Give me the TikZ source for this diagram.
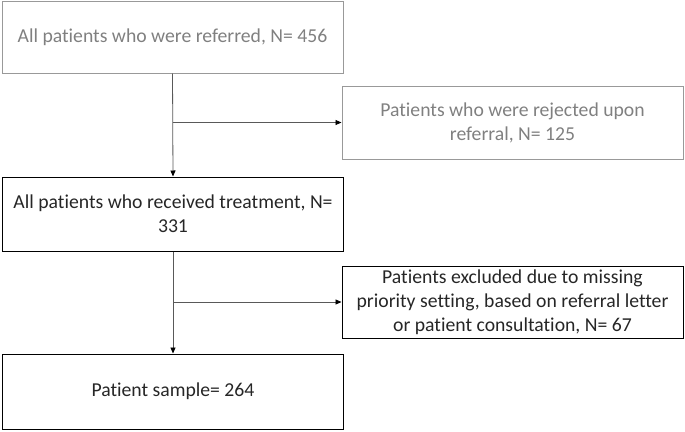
\documentclass[tikz,border=0pt]{standalone}
\usepackage{fontspec}
\setmainfont[Ligatures=NoCommon]{Carlito}
\usetikzlibrary{arrows.meta}
\begin{document}
\begin{tikzpicture}[x=1pt,y=-1pt,
  box/.style={draw=black,line width=1pt,minimum width=341pt,align=center,inner sep=0pt,font=\fontsize{19.7}{24}\selectfont,text=black!85},
  graybox/.style={box,draw=black!40,text=black!50},
  arr/.style={-{Triangle[length=6pt,width=5pt,color=black]},line width=0.8pt,draw=black!65}]
\useasboundingbox (0,0) rectangle (685,431);
\node[graybox,minimum height=72pt] (a) at (172.5,37) {All patients who were referred, N= 456};
\node[graybox,minimum height=73pt] (b) at (512.5,122.5) {Patients who were rejected upon\\referral, N= 125};
\node[box,minimum height=74pt] (c) at (173,214) {All patients who received treatment, N=\\331};
\node[box,minimum height=72pt] (d) at (512.5,302) {Patients excluded due to missing\\priority setting, based on referral letter\\or patient consultation, N= 67};
\node[box,minimum height=75pt] (e) at (173,391.5) {Patient sample= 264};
\coordinate (j1) at (a.south |- b.west);
\coordinate (j2) at (c.south |- d.west);
\draw[arr] (a.south) -- (c.north);
\draw[arr] (j1) -- (b.west);
\draw[arr] (c.south) -- (e.north);
\draw[arr] (j2) -- (d.west);
\end{tikzpicture}
\end{document}
